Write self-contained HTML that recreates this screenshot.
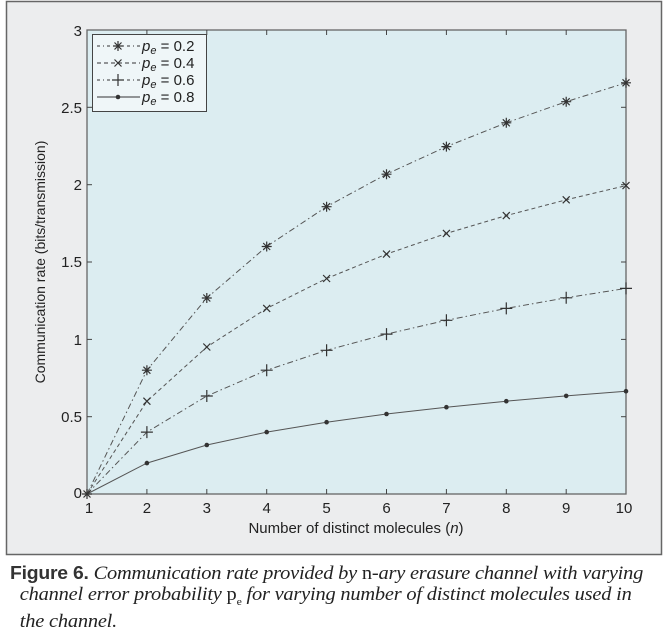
<!DOCTYPE html>
<html><head><meta charset="utf-8"><style>
body{margin:0;background:#fff;width:668px;height:636px;overflow:hidden;position:relative}
.cap{position:absolute;left:10px;top:563px;font-family:"Liberation Serif",serif;font-style:italic;font-size:19px;line-height:20.5px;color:#222;letter-spacing:-0.2px;transform:scaleX(1.075);transform-origin:0 0;white-space:nowrap}
.cap b{font-family:"Liberation Sans",sans-serif;font-style:normal;font-weight:bold;font-size:18px;color:#333}
</style></head><body>
<svg width="668" height="560" style="position:absolute;left:0;top:0" font-family="Liberation Sans, sans-serif">
<rect x="6.5" y="1.5" width="655" height="553" fill="#ecedee" stroke="#666" stroke-width="1.5"/>
<rect x="87" y="30" width="539" height="464" fill="#dcedf1" stroke="#666" stroke-width="1.3"/>
<g stroke="#444" stroke-width="1">
<line x1="146.9" y1="494" x2="146.9" y2="489"/><line x1="206.8" y1="494" x2="206.8" y2="489"/><line x1="266.7" y1="494" x2="266.7" y2="489"/><line x1="326.6" y1="494" x2="326.6" y2="489"/><line x1="386.5" y1="494" x2="386.5" y2="489"/><line x1="446.4" y1="494" x2="446.4" y2="489"/><line x1="506.3" y1="494" x2="506.3" y2="489"/><line x1="566.2" y1="494" x2="566.2" y2="489"/>
<line x1="146.9" y1="30" x2="146.9" y2="35"/><line x1="206.8" y1="30" x2="206.8" y2="35"/><line x1="266.7" y1="30" x2="266.7" y2="35"/><line x1="326.6" y1="30" x2="326.6" y2="35"/><line x1="386.5" y1="30" x2="386.5" y2="35"/><line x1="446.4" y1="30" x2="446.4" y2="35"/><line x1="506.3" y1="30" x2="506.3" y2="35"/><line x1="566.2" y1="30" x2="566.2" y2="35"/>
<line x1="87" y1="416.7" x2="92" y2="416.7"/><line x1="87" y1="339.4" x2="92" y2="339.4"/><line x1="87" y1="262" x2="92" y2="262"/><line x1="87" y1="184.7" x2="92" y2="184.7"/><line x1="87" y1="107.3" x2="92" y2="107.3"/>
<line x1="626" y1="416.7" x2="621" y2="416.7"/><line x1="626" y1="339.4" x2="621" y2="339.4"/><line x1="626" y1="262" x2="621" y2="262"/><line x1="626" y1="184.7" x2="621" y2="184.7"/><line x1="626" y1="107.3" x2="621" y2="107.3"/>
</g>
<g font-size="15" fill="#222" text-anchor="middle">
<text x="89" y="513">1</text><text x="146.9" y="513">2</text><text x="206.8" y="513">3</text><text x="266.7" y="513">4</text><text x="326.6" y="513">5</text><text x="386.5" y="513">6</text><text x="446.4" y="513">7</text><text x="506.3" y="513">8</text><text x="566.2" y="513">9</text><text x="624" y="513">10</text>
<text x="356" y="533">Number of distinct molecules (<tspan font-style="italic">n</tspan>)</text>
</g>
<g font-size="15" fill="#222" text-anchor="end">
<text x="82" y="498">0</text><text x="82" y="422">0.5</text><text x="82" y="345">1</text><text x="82" y="267">1.5</text><text x="82" y="190">2</text><text x="82" y="113">2.5</text><text x="82" y="36">3</text>
</g>
<text transform="translate(45,262) rotate(-90)" font-size="14" fill="#222" text-anchor="middle">Communication rate (bits/transmission)</text>
<g fill="none" stroke="#555" stroke-width="1">
<polyline stroke-dasharray="6,3,1.5,3" points="87,494 146.9,370.2 206.8,298 266.7,246.5 326.6,206.7 386.5,174.2 446.4,146.6 506.3,122.8 566.2,101.7 626,82.8"/>
<polyline stroke-dasharray="4,3" points="87,494 146.9,401.2 206.8,347 266.7,308.4 326.6,278.5 386.5,254.1 446.4,233.4 506.3,215.6 566.2,199.8 626,185.6"/>
<polyline stroke-dasharray="6,3,1.5,3" points="87,494 146.9,432.1 206.8,396 266.7,370.2 326.6,350.3 386.5,334.1 446.4,320.3 506.3,308.4 566.2,297.8 626,288.4"/>
<polyline points="87,494 146.9,463.1 206.8,445 266.7,432.1 326.6,422.2 386.5,414 446.4,407.2 506.3,401.2 566.2,395.9 626,391.2"/>
</g>
<g stroke="#333" stroke-width="1.2">
<path d="M82,494h10M87,489v10M83.5,490.5l7,7M90.5,490.5l-7,7"/>
<path d="M141.9,370.2h10M146.9,365.2v10M143.4,366.7l7,7M150.4,366.7l-7,7 M201.8,298h10M206.8,293v10M203.3,294.5l7,7M210.3,294.5l-7,7 M261.7,246.5h10M266.7,241.5v10M263.2,243l7,7M270.2,243l-7,7 M321.6,206.7h10M326.6,201.7v10M323.1,203.2l7,7M330.1,203.2l-7,7 M381.5,174.2h10M386.5,169.2v10M383,170.7l7,7M390,170.7l-7,7 M441.4,146.6h10M446.4,141.6v10M442.9,143.1l7,7M449.9,143.1l-7,7 M501.3,122.8h10M506.3,117.8v10M502.8,119.3l7,7M509.8,119.3l-7,7 M561.2,101.7h10M566.2,96.7v10M562.7,98.2l7,7M569.7,98.2l-7,7 M621,82.8h10M626,77.8v10M622.5,79.3l7,7M629.5,79.3l-7,7"/>
<path d="M143.4,397.7l7,7M150.4,397.7l-7,7 M203.3,343.5l7,7M210.3,343.5l-7,7 M263.2,304.9l7,7M270.2,304.9l-7,7 M323.1,275l7,7M330.1,275l-7,7 M383,250.6l7,7M390,250.6l-7,7 M442.9,229.9l7,7M449.9,229.9l-7,7 M502.8,212.1l7,7M509.8,212.1l-7,7 M562.7,196.3l7,7M569.7,196.3l-7,7 M622.5,182.1l7,7M629.5,182.1l-7,7"/>
<path d="M140.9,432.1h12M146.9,426.1v12 M200.8,396h12M206.8,390v12 M260.7,370.2h12M266.7,364.2v12 M320.6,350.3h12M326.6,344.3v12 M380.5,334.1h12M386.5,328.1v12 M440.4,320.3h12M446.4,314.3v12 M500.3,308.4h12M506.3,302.4v12 M560.2,297.8h12M566.2,291.8v12 M620,288.4h12M626,282.4v12"/>
</g>
<g fill="#333">
<circle cx="146.9" cy="463.1" r="2.3"/><circle cx="206.8" cy="445" r="2.3"/><circle cx="266.7" cy="432.1" r="2.3"/><circle cx="326.6" cy="422.2" r="2.3"/><circle cx="386.5" cy="414" r="2.3"/><circle cx="446.4" cy="407.2" r="2.3"/><circle cx="506.3" cy="401.2" r="2.3"/><circle cx="566.2" cy="395.9" r="2.3"/><circle cx="626" cy="391.2" r="2.3"/>
</g>
<rect x="92.5" y="34.5" width="114" height="77" fill="#eff6f8" stroke="#444" stroke-width="1"/>
<g stroke="#333" stroke-width="1" fill="none">
<line x1="97" y1="46" x2="140" y2="46" stroke-dasharray="3,3,1,3"/>
<line x1="97" y1="63" x2="140" y2="63" stroke-dasharray="4,3"/>
<line x1="97" y1="80" x2="140" y2="80" stroke-dasharray="3,3,1,3"/>
<line x1="97" y1="97" x2="140" y2="97"/>
<path stroke-width="1.2" d="M113,46h10M118,41v10M114.5,42.5l7,7M121.5,42.5l-7,7 M114.5,59.5l7,7M121.5,59.5l-7,7 M112,80h12M118,74v12"/>
</g>
<circle cx="118" cy="97" r="2.3" fill="#333"/>
<g font-size="15" fill="#222">
<text x="142" y="51"><tspan font-style="italic">p</tspan><tspan font-style="italic" font-size="11" dy="3">e</tspan><tspan dy="-3"> = 0.2</tspan></text>
<text x="142" y="68"><tspan font-style="italic">p</tspan><tspan font-style="italic" font-size="11" dy="3">e</tspan><tspan dy="-3"> = 0.4</tspan></text>
<text x="142" y="85"><tspan font-style="italic">p</tspan><tspan font-style="italic" font-size="11" dy="3">e</tspan><tspan dy="-3"> = 0.6</tspan></text>
<text x="142" y="102"><tspan font-style="italic">p</tspan><tspan font-style="italic" font-size="11" dy="3">e</tspan><tspan dy="-3"> = 0.8</tspan></text>
</g>
</svg>
<div class="cap"><b>Figure 6.</b> Communication rate provided by <span style="font-style:normal">n</span>-ary erasure channel with varying<br>&nbsp;&nbsp;channel error probability <span style="font-style:normal">p<sub style="font-size:11px">e</sub></span> for varying number of distinct molecules used in<br>&nbsp;&nbsp;the channel.</div>
</body></html>
